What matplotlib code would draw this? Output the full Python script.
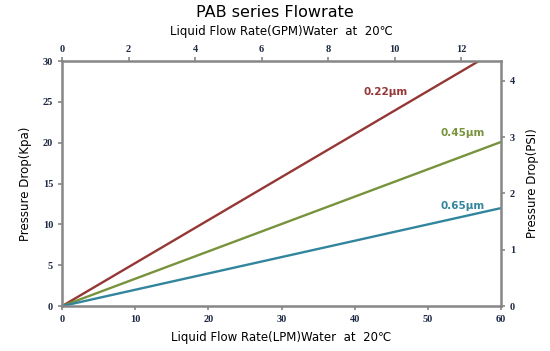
import matplotlib
matplotlib.use("Agg")
import matplotlib.pyplot as plt
from matplotlib.font_manager import FontProperties

# flow rate (LPM) vs pressure drop (kPa)
lpm = [0, 60]
drop_022 = [0, 31.6]
drop_045 = [0, 20.1]
drop_065 = [0, 12.0]
labels = ["0.22\u03bcm", "0.45\u03bcm", "0.65\u03bcm"]
colors = ["#953735", "#77933c", "#31859c"]
label_pos = [(44.2, 26.2), (54.8, 21.2), (54.7, 12.2)]

gray = "#868686"
tickfont = dict(family="Liberation Serif", size=7.5, weight="bold")

fig = plt.figure(figsize=(5.5, 3.51), dpi=100)
ax = fig.add_axes([0.113, 0.128, 0.798, 0.698])

for ys, c, lab, (lx, ly) in zip([drop_022, drop_045, drop_065], colors, labels, label_pos):
    ax.plot(lpm, ys, color=c, lw=1.7, solid_capstyle="butt")
    ax.text(lx, ly, lab, color=c, fontsize=7.5, fontweight="bold",
            ha="center", va="center", family="DejaVu Sans")

ax.set_xlim(0, 60)
ax.set_ylim(0, 30)
ax.set_xticks(range(0, 61, 10))
ax.set_yticks(range(0, 31, 5))

for s in ax.spines.values():
    s.set_color(gray)
    s.set_linewidth(1.8)
ax.tick_params(colors=gray, length=3, width=1.2, labelcolor="#1f2a44")
for t in ax.get_xticklabels() + ax.get_yticklabels():
    t.set_fontproperties(FontProperties(**tickfont))
ax.set_xlabel("Liquid Flow Rate(LPM)Water  at  20\u2103", fontsize=8.5, labelpad=5)
ax.set_ylabel("Pressure Drop(Kpa)", fontsize=8.5, labelpad=8)

# top axis: GPM
axt = ax.twiny()
axt.set_xlim(0, 60 / 4.546)
axt.set_xticks(range(0, 13, 2))
axt.tick_params(colors=gray, length=3, width=1.2, labelcolor="#1f2a44", pad=2)
for t in axt.get_xticklabels():
    t.set_fontproperties(FontProperties(**tickfont))
axt.set_xlabel("Liquid Flow Rate(GPM)Water  at  20\u2103", fontsize=8.5, labelpad=7)
for s in axt.spines.values():
    s.set_visible(False)

# right axis: PSI
axr = ax.twinx()
axr.set_ylim(0, 30 / 6.895)
axr.set_yticks(range(0, 5))
axr.tick_params(colors=gray, length=3, width=1.2, labelcolor="#1f2a44")
for t in axr.get_yticklabels():
    t.set_fontproperties(FontProperties(**tickfont))
axr.set_ylabel("Pressure Drop(PSI)", fontsize=8.5, labelpad=8)
for s in axr.spines.values():
    s.set_visible(False)

fig.suptitle("PAB series Flowrate", fontsize=11.5, y=0.985)

fig.savefig("out.png", dpi=100)
